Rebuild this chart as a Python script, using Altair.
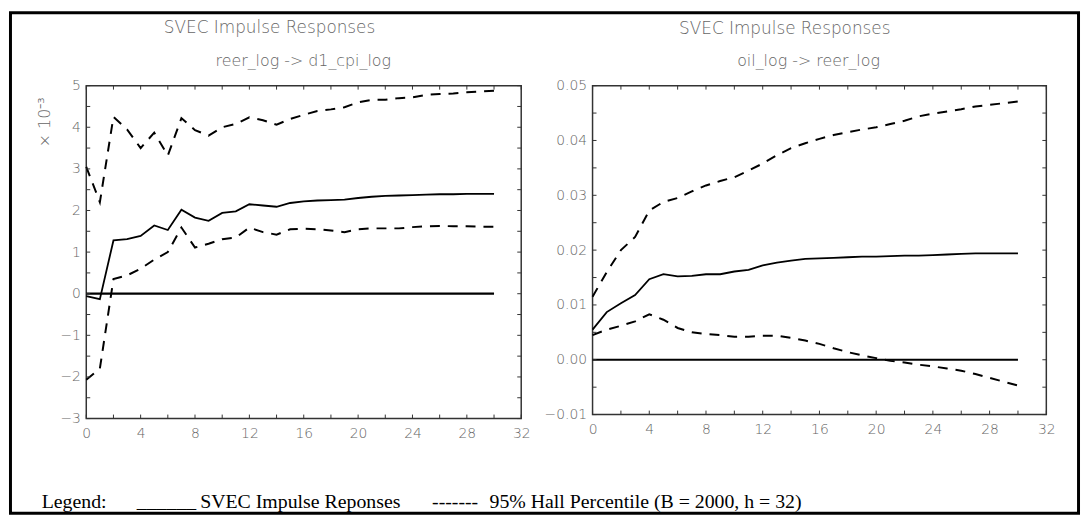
import altair as alt
import pandas as pd

# ---------------- data ----------------
HORIZON = list(range(31))

# left panel: reer_log -> d1_cpi_log (units of 10^-3)
LEFT_IRF = [-0.06, -0.13, 1.28, 1.31, 1.39, 1.64, 1.53, 2.02, 1.83, 1.75, 1.94,
            1.98, 2.15, 2.12, 2.09, 2.18, 2.22, 2.24, 2.25, 2.26, 2.30, 2.33,
            2.35, 2.36, 2.37, 2.38, 2.39, 2.39, 2.40, 2.40, 2.40]
LEFT_UPPER = [3.05, 2.20, 4.25, 3.95, 3.50, 3.87, 3.32, 4.22, 3.93, 3.80, 4.00,
              4.08, 4.24, 4.17, 4.06, 4.20, 4.30, 4.39, 4.43, 4.48, 4.60, 4.66,
              4.66, 4.70, 4.72, 4.78, 4.80, 4.81, 4.84, 4.86, 4.88]
LEFT_LOWER = [-2.07, -1.80, 0.35, 0.44, 0.60, 0.82, 1.00, 1.59, 1.11, 1.20, 1.31,
              1.35, 1.59, 1.48, 1.42, 1.55, 1.56, 1.55, 1.52, 1.48, 1.55, 1.57,
              1.57, 1.57, 1.60, 1.62, 1.63, 1.62, 1.62, 1.61, 1.61]

# right panel: oil_log -> reer_log
RIGHT_IRF = [0.0055, 0.0087, 0.0103, 0.0118, 0.0147, 0.0156, 0.0152, 0.0153,
             0.0156, 0.0156, 0.0161, 0.0164, 0.0172, 0.0177, 0.0181, 0.0184,
             0.0185, 0.0186, 0.0187, 0.0188, 0.0188, 0.0189, 0.0190, 0.0190,
             0.0191, 0.0192, 0.0193, 0.0194, 0.0194, 0.0194, 0.0194]
RIGHT_UPPER = [0.0115, 0.0160, 0.0200, 0.0224, 0.0272, 0.0288, 0.0295, 0.0307,
               0.0318, 0.0326, 0.0333, 0.0345, 0.0358, 0.0373, 0.0386, 0.0395,
               0.0403, 0.0410, 0.0415, 0.0420, 0.0424, 0.0430, 0.0436, 0.0444,
               0.0449, 0.0453, 0.0457, 0.0462, 0.0465, 0.0468, 0.0471]
RIGHT_LOWER = [0.0045, 0.0055, 0.0062, 0.0070, 0.0083, 0.0073, 0.0058, 0.0050,
               0.0047, 0.0045, 0.0042, 0.0042, 0.0044, 0.0044, 0.0040, 0.0035,
               0.0029, 0.0021, 0.0014, 0.0008, 0.0003, -0.0002, -0.0005, -0.0009,
               -0.0012, -0.0016, -0.0020, -0.0026, -0.0033, -0.0040, -0.0047]

X_LABELS = [0, 4, 8, 12, 16, 20, 24, 28, 32]
X_TICKS = list(range(0, 33, 2))
LEFT_Y_LABELS = [-3, -2, -1, 0, 1, 2, 3, 4, 5]
LEFT_Y_TICKS = [v / 2 for v in range(-6, 11)]
RIGHT_Y_LABELS = [-0.01, 0.0, 0.01, 0.02, 0.03, 0.04, 0.05]
RIGHT_Y_TICKS = [v / 1000 for v in range(-10, 55, 5)]

TITLE = "SVEC Impulse Responses"
LEFT_SUB = "reer_log -> d1_cpi_log"
RIGHT_SUB = "oil_log -> reer_log"
LEFT_YTITLE = "\u00d7 10\u207b\u00b3"
LEGEND_PARTS = ["Legend:", "______", "SVEC Impulse Reponses", "-------",
                "95% Hall Percentile (B = 2000, h = 32)"]

# ---------------- style ----------------
SANS = "DejaVu Sans"
SERIF = "Liberation Serif"
GRAY = "#666666"
FRAME = "#333333"


def text(txt, x, y, **kw):
    return alt.Chart(pd.DataFrame({"t": [txt]})).mark_text(**kw).encode(
        x=alt.value(x), y=alt.value(y), text="t:N")


def panel(irf, lo, hi, ydom, ylabels, yticks, yfmt, w, h, title_xy, sub, sub_xy, extra):
    df = pd.DataFrame({
        "h": HORIZON * 3,
        "v": irf + lo + hi,
        "s": ["irf"] * 31 + ["lo"] * 31 + ["hi"] * 31,
    })
    xs = alt.Scale(domain=[0, 32], nice=False, zero=False)
    ys = alt.Scale(domain=ydom, nice=False, zero=False)
    xaxis = alt.Axis(values=X_LABELS, format="d", ticks=False, domain=False,
                     grid=False, labelPadding=8, title=None, labelFlush=False,
                     labelOverlap=False)
    yaxis = alt.Axis(values=ylabels, format=yfmt, ticks=False, domain=False,
                     grid=False, labelPadding=6, title=None, labelFlush=False,
                     labelOverlap=False)
    X = alt.X("h:Q", scale=xs, axis=xaxis)
    Y = alt.Y("v:Q", scale=ys, axis=yaxis)

    solid = alt.Chart(df).transform_filter(alt.datum.s == "irf").mark_line(
        color="black", strokeWidth=1.8).encode(x=X, y=Y)
    dashed = alt.Chart(df).transform_filter(alt.datum.s != "irf").mark_line(
        color="black", strokeWidth=2, strokeDash=[10, 8]).encode(
        x=alt.X("h:Q", scale=xs), y=alt.Y("v:Q", scale=ys), detail="s:N")
    zero = alt.Chart(pd.DataFrame({"h": [0], "h2": [30], "v": [0]})).mark_rule(
        color="black", strokeWidth=2.2).encode(
        x=alt.X("h:Q", scale=xs), x2="h2:Q", y=alt.Y("v:Q", scale=ys))

    xt = alt.Chart(pd.DataFrame({"h": X_TICKS}))
    yt = alt.Chart(pd.DataFrame({"v": yticks}))
    tick_style = dict(color=FRAME, strokeWidth=1)
    ticks = [
        xt.mark_rule(**tick_style).encode(x=alt.X("h:Q", scale=xs), y=alt.value(h), y2=alt.value(h - 4)),
        xt.mark_rule(**tick_style).encode(x=alt.X("h:Q", scale=xs), y=alt.value(0), y2=alt.value(4)),
        yt.mark_rule(**tick_style).encode(y=alt.Y("v:Q", scale=ys), x=alt.value(0), x2=alt.value(4)),
        yt.mark_rule(**tick_style).encode(y=alt.Y("v:Q", scale=ys), x=alt.value(w), x2=alt.value(w - 4)),
    ]
    titles = [
        text(TITLE, title_xy[0], title_xy[1], font=SANS, fontSize=17, color=GRAY,
             fontWeight=200, align="center", baseline="middle"),
        text(sub, sub_xy[0], sub_xy[1], font=SANS, fontSize=16, color=GRAY,
             fontWeight=200, align="center", baseline="middle"),
    ]
    return alt.layer(zero, dashed, solid, *ticks, *titles, *extra).properties(
        width=w, height=h)


LW, LH = 439, 336
RW, RH = 458, 332

border = alt.Chart(pd.DataFrame({"b": [0]})).mark_rect(
    fill="white", fillOpacity=0, stroke="black", strokeWidth=3).encode(
    x=alt.value(-76.5), x2=alt.value(1001.5), y=alt.value(-73.5), y2=alt.value(431.5))

legend_y = 426
legend_style = dict(font=SERIF, fontSize=20, color="black", align="left",
                    baseline="alphabetic")
legend = [
    text(LEGEND_PARTS[0], -45, legend_y, **legend_style),
    text(LEGEND_PARTS[1], 51, legend_y, **legend_style),
    text(LEGEND_PARTS[2], 115, legend_y, **legend_style),
    text(LEGEND_PARTS[3], 349, legend_y, **legend_style),
    text(LEGEND_PARTS[4], 407, legend_y, **legend_style),
]
ytitle = text(LEFT_YTITLE, -42, 37, font=SANS, fontSize=16, color=GRAY,
              fontWeight=200, align="center", baseline="middle", angle=270)

left = panel(LEFT_IRF, LEFT_LOWER, LEFT_UPPER, [-3, 5], LEFT_Y_LABELS,
             LEFT_Y_TICKS, "d", LW, LH, (185, -58), LEFT_SUB, (219, -25),
             [border, ytitle] + legend)
right = panel(RIGHT_IRF, RIGHT_LOWER, RIGHT_UPPER, [-0.01, 0.05], RIGHT_Y_LABELS,
              RIGHT_Y_TICKS, ".2f", RW, RH, (194, -57), RIGHT_SUB, (218, -25), [])

chart = alt.hconcat(left, right, spacing=72, bounds="flush", padding=0).configure_view(
    stroke=FRAME, strokeWidth=1.5).configure_axis(
    labelFont=SANS, labelFontSize=14, labelColor=GRAY, labelFontWeight=200)

chart.save("out.html", embed_options={"renderer": "svg", "actions": False})
